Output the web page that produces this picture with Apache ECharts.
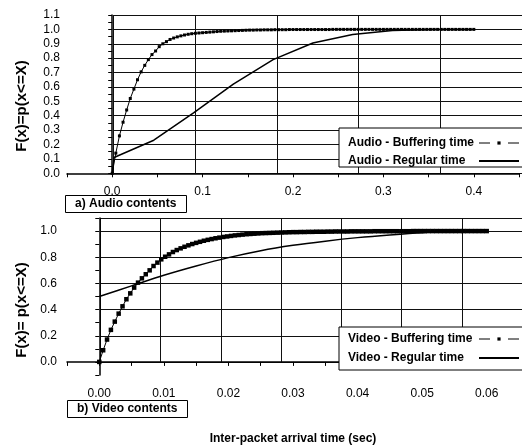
<!DOCTYPE html>
<html>
<head>
<meta charset="utf-8">
<script src="https://cdn.jsdelivr.net/npm/echarts@6/dist/echarts.min.js"></script>
<style>
  html, body { margin: 0; padding: 0; background: #fff; }
  #chart { width: 522px; height: 447px; }
</style>
</head>
<body>
<div id="chart"></div>
<script>
// audio - buffering time, sampled every 4 ms
var audioBufStep = 0.004
var audioBufY = [
  0, 0.14, 0.26, 0.355, 0.44, 0.52, 0.585, 0.65, 0.705, 0.75,
  0.79, 0.825, 0.85, 0.88, 0.90, 0.915, 0.93, 0.94, 0.948, 0.955,
  0.961, 0.966, 0.970, 0.973, 0.975, 0.977, 0.979, 0.981, 0.983, 0.985,
  0.987, 0.988, 0.989, 0.990, 0.991, 0.992, 0.993, 0.994, 0.995, 0.995,
  0.996, 0.996, 0.997, 0.997, 0.997, 0.998, 0.998, 0.998, 0.998, 0.999,
  0.999, 0.999, 0.999, 0.999, 0.999, 0.999, 0.999, 0.999, 0.999, 0.999,
  0.999, 1, 1, 1, 1, 1, 1, 1, 1, 1,
  1, 1, 1, 1, 1, 1, 1, 1, 1, 1,
  1, 1, 1, 1, 1, 1, 1, 1, 1, 1,
  1, 1, 1, 1, 1, 1, 1, 1, 1, 1,
  1
]
// audio - regular time
var audioRegX = [0, 0.002, 0.046, 0.09, 0.134, 0.178, 0.222, 0.266, 0.31, 0.354, 0.398]
var audioRegY = [0, 0.11, 0.23, 0.42, 0.62, 0.79, 0.905, 0.965, 0.993, 1.0, 1.0]

// video - buffering time, sampled every 0.6 ms
var videoBufStep = 0.0006
var videoBufY = [
  0, 0.089, 0.171, 0.245, 0.308, 0.369, 0.425, 0.479, 0.524, 0.568,
  0.606, 0.639, 0.670, 0.700, 0.733, 0.759, 0.784, 0.804, 0.822, 0.840,
  0.855, 0.868, 0.880, 0.891, 0.901, 0.910, 0.918, 0.926, 0.933, 0.939,
  0.945, 0.950, 0.955, 0.959, 0.963, 0.967, 0.970, 0.973, 0.976, 0.978,
  0.980, 0.982, 0.984, 0.985, 0.986, 0.987, 0.988, 0.989, 0.990, 0.991,
  0.992, 0.992, 0.993, 0.993, 0.994, 0.994, 0.995, 0.995, 0.995, 0.996,
  0.996, 0.997, 0.997, 0.997, 0.997, 0.998, 0.998, 0.998, 0.998, 0.998,
  0.998, 0.999, 0.999, 0.999, 0.999, 0.999, 0.999, 0.999, 0.999, 0.999,
  0.999, 1, 1, 1, 1, 1, 1, 1, 1, 1,
  1, 1, 1, 1, 1, 1, 1, 1, 1, 1,
  1
]
// video - regular time
var videoRegX = [0, 0.005, 0.01, 0.015, 0.02, 0.025, 0.03, 0.035, 0.04, 0.045, 0.05, 0.055, 0.06]
var videoRegY = [0.50, 0.581, 0.662, 0.733, 0.797, 0.85, 0.891, 0.923, 0.95, 0.971, 0.988, 0.996, 1.0]

var FONT = 'Liberation Sans, Arial, sans-serif'

function pairs (xs, ys) {
  return ys.map(function (y, i) { return [xs[i], y] })
}
function stepped (step, ys) {
  return ys.map(function (y, i) { return [+(i * step).toFixed(5), y] })
}
// show a label only on multiples of `step`
function fmt (step, digits) {
  return function (v) {
    var k = Math.round(v / step)
    if (Math.abs(v - k * step) > 1e-9) return ''
    return (k * step).toFixed(digits)
  }
}

var axisText = { color: '#000', fontFamily: FONT, fontSize: 12 }
var blackAxis = { lineStyle: { color: '#000', width: 1.5 } }
var gridLine = { show: true, lineStyle: { color: '#111', width: 1, type: 'solid' } }
// axes that only carry the grid lines (major steps, starting at 0)
function gridAxis (idx, min, max, interval) {
  return {
    gridIndex: idx, type: 'value', min: min, max: max, interval: interval,
    axisLine: { show: false }, axisTick: { show: false }, axisLabel: { show: false },
    splitLine: gridLine, z: 0
  }
}
var legendText = {
  fontFamily: FONT, fontSize: 12, fontWeight: 'bold', color: '#000',
  rich: { a: { width: 126, align: 'left', lineHeight: 14, fontFamily: FONT, fontSize: 12, fontWeight: 'bold', color: '#000' } }
}
function legendFmt (name) { return '{a|' + name + '}' }
var bufLegendLine = { type: [11, 18], width: 1, color: '#000' }
var regLegendItem = { opacity: 0 }

var chart = echarts.init(document.getElementById('chart'))
var option = {
  animation: false,
  backgroundColor: '#fff',
  title: [{
    text: 'a) Audio contents',
    left: 65, top: 195,
    padding: [3, 10, 3, 10],
    borderColor: '#000', borderWidth: 1,
    backgroundColor: '#fff',
    textStyle: { fontFamily: FONT, fontSize: 12, fontWeight: 'bold', color: '#000' }
  }, {
    text: 'b) Video contents',
    left: 67, top: 400,
    padding: [3, 10, 3, 10],
    borderColor: '#000', borderWidth: 1,
    backgroundColor: '#fff',
    textStyle: { fontFamily: FONT, fontSize: 12, fontWeight: 'bold', color: '#000' }
  }],
  legend: [{
    data: [
      { name: 'Audio - Buffering time', lineStyle: bufLegendLine },
      { name: 'Audio - Regular time', itemStyle: regLegendItem }
    ],
    orient: 'vertical',
    align: 'right',
    left: 339, top: 128,
    padding: [9, 12, 0, 9],
    itemGap: 6,
    itemWidth: 40,
    itemHeight: 4,
    borderColor: '#000', borderWidth: 1,
    backgroundColor: '#fff',
    formatter: legendFmt,
    textStyle: legendText
  }, {
    data: [
      { name: 'Video - Buffering time', lineStyle: bufLegendLine },
      { name: 'Video - Regular time', itemStyle: regLegendItem }
    ],
    orient: 'vertical',
    align: 'right',
    left: 339, top: 327,
    padding: [6, 12, 6, 9],
    itemGap: 7,
    itemWidth: 40,
    itemHeight: 4,
    borderColor: '#000', borderWidth: 1,
    backgroundColor: '#fff',
    formatter: legendFmt,
    textStyle: legendText
  }],
  grid: [
    { left: 67, top: 15, width: 466, height: 158.3 },
    { left: 67, top: 218, width: 469, height: 157 },
    // grid-line overlays, shifted so that their axes start at 0
    { left: 113.6, top: 15, width: 466, height: 158.3 },
    { left: 100.5, top: 218, width: 469, height: 143.92 }
  ],
  xAxis: [{
    gridIndex: 0, type: 'value',
    min: -0.05, max: 0.45, interval: 0.05,
    axisLine: blackAxis,
    axisTick: { length: 4, lineStyle: { color: '#000' } },
    axisLabel: Object.assign({ formatter: fmt(0.1, 1), margin: 12 }, axisText),
    splitLine: { show: false }
  }, {
    gridIndex: 1, type: 'value',
    min: -0.005, max: 0.065, interval: 0.005,
    axisLine: blackAxis,
    axisTick: { length: 4, lineStyle: { color: '#000' } },
    axisLabel: Object.assign({ formatter: fmt(0.01, 2), margin: 13 }, axisText),
    splitLine: { show: false },
    name: 'Inter-packet arrival time (sec)',
    nameLocation: 'middle',
    nameGap: 58,
    nameTextStyle: { fontFamily: FONT, fontSize: 12, fontWeight: 'bold', color: '#000' }
  },
  gridAxis(2, 0, 0.5, 0.1),
  gridAxis(3, 0, 0.07, 0.01)],
  yAxis: [{
    gridIndex: 0, type: 'value',
    min: 0, max: 1.1, interval: 0.05,
    axisLine: blackAxis,
    axisTick: { length: 4, lineStyle: { color: '#000' } },
    axisLabel: Object.assign({ formatter: fmt(0.1, 1), margin: 7 }, axisText),
    splitLine: { show: false }
  }, {
    gridIndex: 1, type: 'value',
    min: -0.1, max: 1.1, interval: 0.1,
    axisLine: blackAxis,
    axisTick: { length: 4, lineStyle: { color: '#000' } },
    axisLabel: Object.assign({
      formatter: function (v) {
        if (v < -1e-9 || v > 1.0 + 1e-9) return ''
        return fmt(0.2, 1)(v)
      },
      margin: 10
    }, axisText),
    splitLine: { show: false }
  },
  gridAxis(2, 0, 1.1, 0.1),
  gridAxis(3, 0, 1.1, 0.2)],
  graphic: [{
    type: 'text', x: 22, y: 106, rotation: Math.PI / 2,
    style: {
      text: 'F(x)=p(x<=X)', fill: '#000',
      font: 'bold 15px ' + FONT, textAlign: 'center', textVerticalAlign: 'middle'
    }
  }, {
    type: 'text', x: 22, y: 310, rotation: Math.PI / 2,
    style: {
      text: 'F(x)= p(x<=X)', fill: '#000',
      font: 'bold 15px ' + FONT, textAlign: 'center', textVerticalAlign: 'middle'
    }
  }],
  series: [{
    name: 'Audio - Regular time', type: 'line', xAxisIndex: 0, yAxisIndex: 0, z: 2,
    symbol: 'none',
    itemStyle: { color: '#000' },
    lineStyle: { color: '#000', width: 1.5 },
    data: pairs(audioRegX, audioRegY)
  }, {
    name: 'Audio - Buffering time', type: 'line', xAxisIndex: 0, yAxisIndex: 0, z: 3,
    symbol: 'rect', symbolSize: 3, showAllSymbol: true,
    itemStyle: { color: '#000' },
    lineStyle: { color: '#000', width: 1 },
    data: stepped(audioBufStep, audioBufY)
  }, {
    name: 'Video - Regular time', type: 'line', xAxisIndex: 1, yAxisIndex: 1, z: 2,
    symbol: 'none', smooth: 0.3,
    itemStyle: { color: '#000' },
    lineStyle: { color: '#000', width: 1.5 },
    data: pairs(videoRegX, videoRegY)
  }, {
    name: 'Video - Buffering time', type: 'line', xAxisIndex: 1, yAxisIndex: 1, z: 3,
    symbol: 'rect', symbolSize: 4.5, showAllSymbol: true,
    itemStyle: { color: '#000' },
    lineStyle: { color: '#000', width: 1 },
    data: stepped(videoBufStep, videoBufY)
  }]
}
chart.setOption(option)
window.addEventListener('resize', function () {
  chart.resize()
})
</script>
</body>
</html>
